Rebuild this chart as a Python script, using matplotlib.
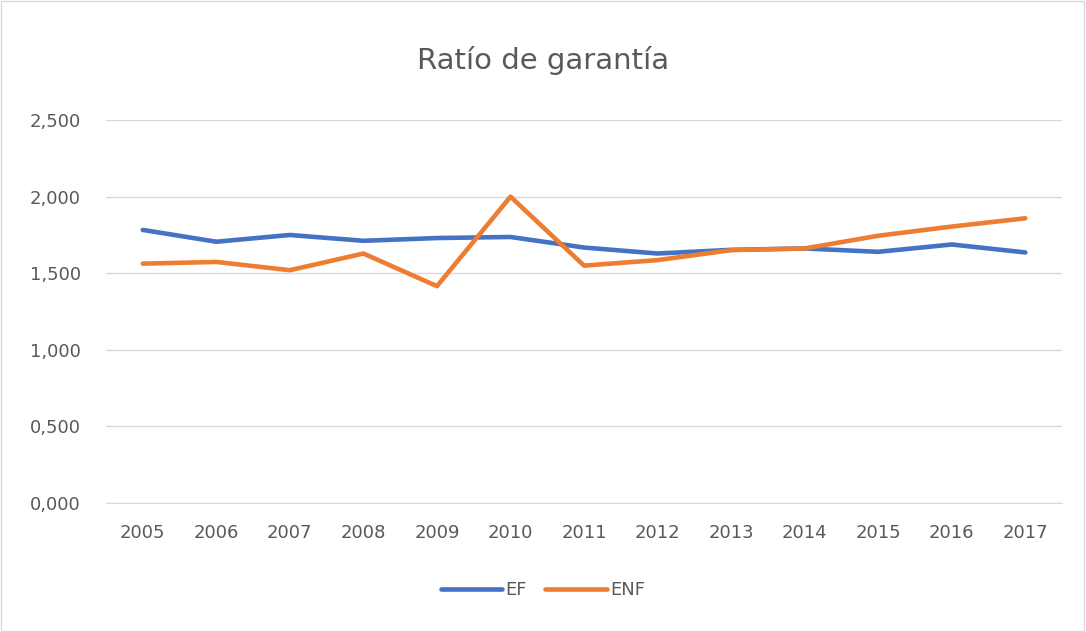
import matplotlib.pyplot as plt
from matplotlib.patches import Rectangle
from matplotlib.ticker import FuncFormatter

years = ['2005', '2006', '2007', '2008', '2009', '2010', '2011',
         '2012', '2013', '2014', '2015', '2016', '2017']
ef = [1.783, 1.706, 1.750, 1.712, 1.730, 1.737, 1.668,
      1.629, 1.653, 1.662, 1.640, 1.688, 1.636]
enf = [1.563, 1.574, 1.520, 1.629, 1.416, 2.000, 1.550,
       1.586, 1.651, 1.662, 1.745, 1.805, 1.859]

text_color = '#595959'
grid_color = '#D9D9D9'

fig = plt.figure(figsize=(10.86, 6.32), dpi=100)
ax = fig.add_axes([0.0976, 0.204, 0.8804, 0.606])

x = range(len(years))
ax.plot(x, ef, color='#4472C4', linewidth=3.3, solid_capstyle='round', label='EF')
ax.plot(x, enf, color='#ED7D31', linewidth=3.3, solid_capstyle='round', label='ENF')

ax.set_xlim(-0.5, len(years) - 0.5)
ax.set_ylim(0, 2.5)
ax.set_yticks([0, 0.5, 1.0, 1.5, 2.0, 2.5])
ax.yaxis.set_major_formatter(FuncFormatter(lambda v, p: f'{v:.3f}'.replace('.', ',')))
ax.set_xticks(list(x))
ax.set_xticklabels(years)

ax.grid(axis='y', color=grid_color, linewidth=1)
ax.set_axisbelow(True)
for s in ['top', 'right', 'left']:
    ax.spines[s].set_visible(False)
ax.spines['bottom'].set_color(grid_color)
ax.tick_params(length=0, colors=text_color, labelsize=13)
ax.tick_params(axis='y', pad=18)
ax.tick_params(axis='x', pad=15)

fig.text(0.5, 0.905, 'Ratío de garantía', ha='center', va='center',
         fontsize=21, color=text_color)

fig.legend(loc='center', bbox_to_anchor=(0.5, 0.066), ncol=2, frameon=False,
           fontsize=13, labelcolor=text_color, handlelength=3.4,
           columnspacing=1.0, handletextpad=0.2)

fig.patches.append(Rectangle((0.001, 0.001), 0.997, 0.997, transform=fig.transFigure,
                             fill=False, edgecolor=grid_color, linewidth=1))

fig.savefig('out.png', dpi=100, facecolor='white')
